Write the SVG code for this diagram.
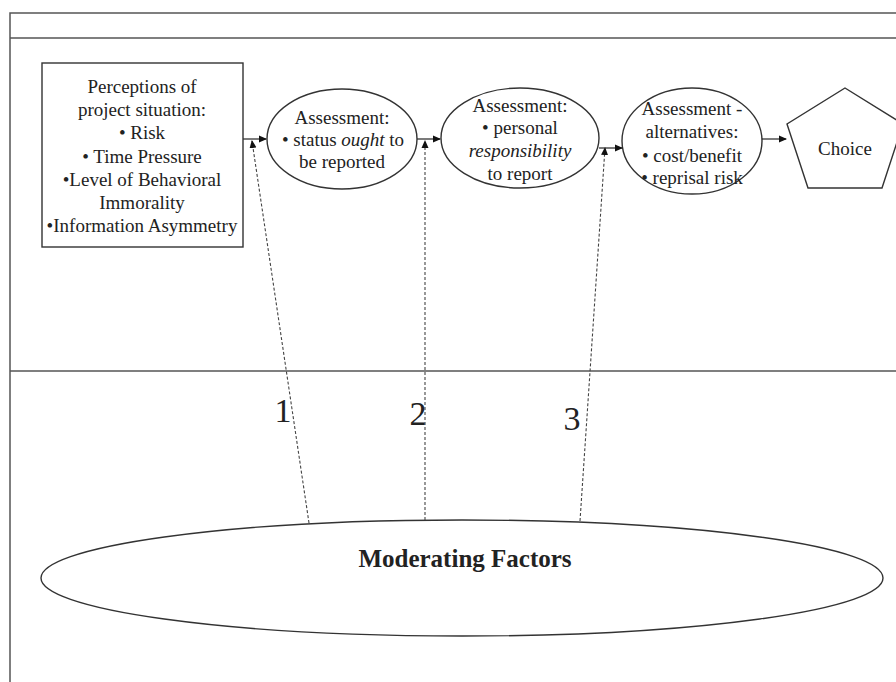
<svg xmlns="http://www.w3.org/2000/svg" width="896" height="682" viewBox="0 0 896 682">
<style>
text{font-family:"Liberation Serif","Times New Roman",serif;fill:#222;text-anchor:middle}
.t{font-size:19px}
.num{font-size:34px}
.frame{stroke:#555;stroke-width:1.5;fill:none}
.node{fill:#fff;stroke:#333;stroke-width:1.4}
.solid{stroke:#333;stroke-width:1.3;fill:none}
.dash{stroke:#444;stroke-width:1.1;fill:none;stroke-dasharray:3 2}
</style>
<defs>
<marker id="ah" markerWidth="8" markerHeight="8" refX="7" refY="4" orient="auto" markerUnits="userSpaceOnUse">
<path d="M0,0.5 L8,4 L0,7.5 Z" fill="#111"/>
</marker>
</defs>
<rect width="896" height="682" fill="#fff"/>
<g id="frame">
<path class="frame" d="M10,682 V13 H896 M10,38 H896 M10,371 H896"/>
</g>
<g id="perceptions">
<rect class="node" x="42" y="63" width="201" height="184"/>
<text class="t" x="142" y="93">Perceptions of</text>
<text class="t" x="142" y="116">project situation:</text>
<text class="t" x="142" y="139">• Risk</text>
<text class="t" x="142" y="163">• Time Pressure</text>
<text class="t" x="142" y="186">•Level of Behavioral</text>
<text class="t" x="142" y="209">Immorality</text>
<text class="t" x="142" y="232">•Information Asymmetry</text>
</g>
<g id="assess1">
<ellipse class="node" cx="342" cy="139" rx="75" ry="50"/>
<text class="t" x="342" y="124">Assessment:</text>
<text class="t" x="343" y="146">• status <tspan font-style="italic">ought</tspan> to</text>
<text class="t" x="342" y="168">be reported</text>
</g>
<g id="assess2">
<ellipse class="node" cx="520" cy="138" rx="79" ry="50"/>
<text class="t" x="520" y="112">Assessment:</text>
<text class="t" x="520" y="134">• personal</text>
<text class="t" x="520" y="157" font-style="italic">responsibility</text>
<text class="t" x="520" y="180">to report</text>
</g>
<g id="assess3">
<ellipse class="node" cx="692" cy="141" rx="70" ry="53"/>
<text class="t" x="692" y="115">Assessment -</text>
<text class="t" x="692" y="138">alternatives:</text>
<text class="t" x="692" y="162">• cost/benefit</text>
<text class="t" x="692" y="184">• reprisal risk</text>
</g>
<g id="choice">
<polygon class="node" points="845,88 903,124 882,188 808,188 787,124"/>
<text class="t" x="845" y="155">Choice</text>
</g>
<g id="moderating">
<ellipse class="node" cx="462" cy="578" rx="421" ry="58"/>
<text x="465" y="567" style="font-size:25px;font-weight:bold">Moderating Factors</text>
</g>
<g id="connectors">
<line class="solid" x1="243" y1="139" x2="266" y2="139" marker-end="url(#ah)"/>
<line class="solid" x1="417" y1="139" x2="440" y2="139" marker-end="url(#ah)"/>
<line class="solid" x1="599" y1="148" x2="622" y2="148" marker-end="url(#ah)"/>
<line class="solid" x1="762" y1="139" x2="786" y2="139" marker-end="url(#ah)"/>
<line class="dash" x1="309" y1="523" x2="252" y2="141" marker-end="url(#ah)"/>
<line class="dash" x1="425" y1="520" x2="425" y2="141" marker-end="url(#ah)"/>
<line class="dash" x1="580" y1="521" x2="605" y2="148" marker-end="url(#ah)"/>
</g>
<g id="labels">
<text class="num" x="283" y="422">1</text>
<text class="num" x="418" y="425">2</text>
<text class="num" x="572" y="430">3</text>
</g>
</svg>
